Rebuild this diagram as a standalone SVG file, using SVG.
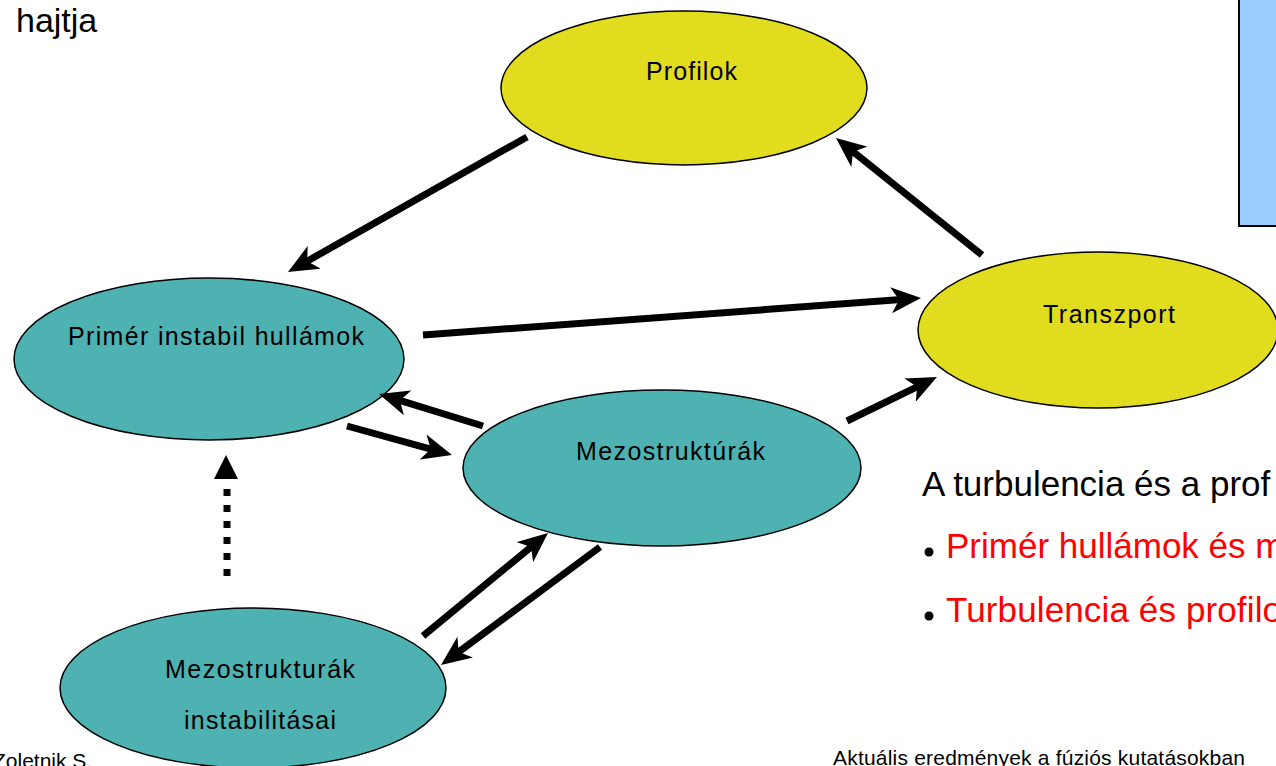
<svg xmlns="http://www.w3.org/2000/svg" width="1276" height="766" viewBox="0 0 1276 766">
<style>
text{font-family:"Liberation Sans",Arial,sans-serif;}
.node{font-size:25px;fill:#000;text-anchor:middle;}
.y{fill:#E1DC1E;stroke:#000;stroke-width:1.5;}
.t{fill:#4FB2B2;stroke:#000;stroke-width:1.5;}
.arr{stroke:#000;stroke-width:7;fill:none;marker-end:url(#ah);}
.big{font-size:35px;}
.red{fill:#FF0000;}
</style>
<defs>
<marker id="ah" markerUnits="userSpaceOnUse" viewBox="0 0 30 26" markerWidth="30" markerHeight="26" refX="10" refY="13" orient="auto">
<path d="M0,0 L30,13 L0,26 L8,13 z" fill="#000"/>
</marker>
</defs>
<rect width="1276" height="766" fill="#fff"/>
<rect x="1239" y="-3" width="50" height="229" fill="#99CCFF" stroke="#000" stroke-width="2"/>
<text x="16" y="32" font-size="34">hajtja</text>
<g id="profilok"><ellipse class="y" cx="684" cy="88" rx="183" ry="77"/><text class="node" x="691.5" y="80" textLength="91" lengthAdjust="spacing">Profilok</text></g>
<g id="transzport"><ellipse class="y" cx="1098" cy="330" rx="180" ry="78"/><text class="node" x="1109" y="323" textLength="132" lengthAdjust="spacing">Transzport</text></g>
<g id="primer"><ellipse class="t" cx="209" cy="359" rx="195" ry="81"/><text class="node" x="216" y="345" textLength="296" lengthAdjust="spacing">Primér instabil hullámok</text></g>
<g id="mezo"><ellipse class="t" cx="662" cy="468" rx="199" ry="78"/><text class="node" x="670.5" y="460" textLength="189" lengthAdjust="spacing">Mezostruktúrák</text></g>
<g id="mezoinst"><ellipse class="t" cx="253" cy="688" rx="193" ry="80"/><text class="node" x="260" y="678" textLength="190" lengthAdjust="spacing">Mezostrukturák</text><text class="node" x="260" y="729" textLength="152" lengthAdjust="spacing">instabilitásai</text></g>
<g id="connectors">
<line class="arr" x1="527" y1="137" x2="305.4" y2="262.2"/>
<line class="arr" x1="982" y1="255" x2="851.6" y2="150.5"/>
<line class="arr" x1="423" y1="335" x2="901.1" y2="299.5"/>
<line class="arr" x1="483" y1="426" x2="398.1" y2="399.9"/>
<line class="arr" x1="347" y1="426" x2="432.7" y2="449.7"/>
<line class="arr" x1="847" y1="421" x2="919" y2="385.8"/>
<line class="arr" x1="423" y1="636" x2="532.6" y2="545.7"/>
<line class="arr" x1="600" y1="547" x2="457.1" y2="653.1"/>
<line x1="227" y1="576" x2="227" y2="486" stroke="#000" stroke-width="7" stroke-dasharray="7 9"/>
<path d="M226,455 L214,479 L238,479 z" fill="#000"/>
</g>
<text class="big" x="922" y="496">A turbulencia és a prof</text>
<circle cx="929" cy="552" r="4.5" fill="#000"/>
<text class="big red" x="946" y="558">Primér hullámok és m</text>
<circle cx="929" cy="616" r="4.5" fill="#000"/>
<text class="big red" x="946" y="622" textLength="336" lengthAdjust="spacing">Turbulencia és profilo</text>
<text x="833" y="765" font-size="21" textLength="412" lengthAdjust="spacing">Aktuális eredmények a fúziós kutatásokban</text>
<text x="-7" y="768" font-size="21">Zoletnik S.</text>
</svg>
